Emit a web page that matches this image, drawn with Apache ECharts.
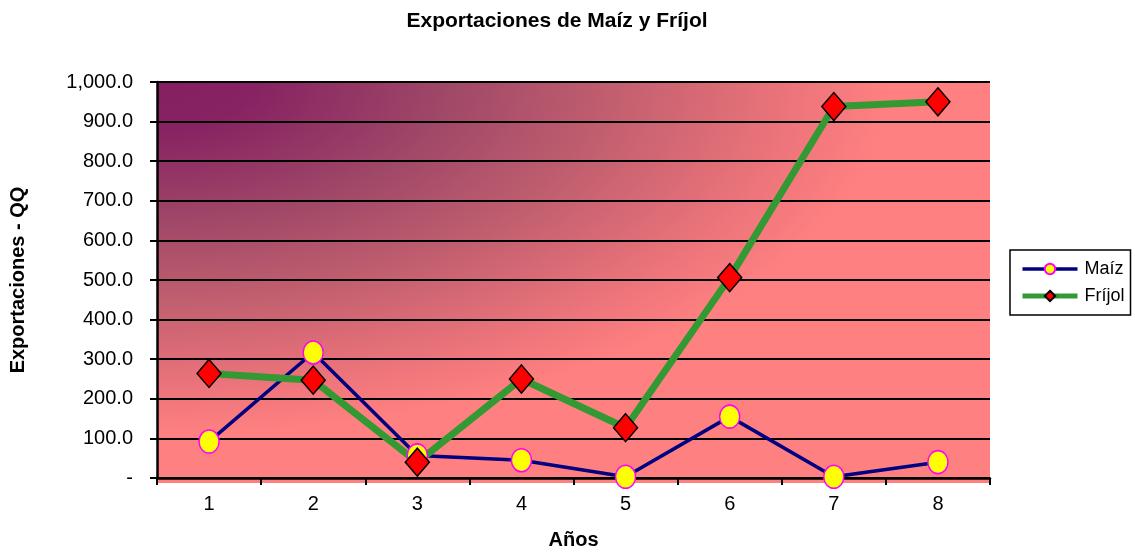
<!DOCTYPE html>
<html><head><meta charset="utf-8">
<script src="https://cdn.jsdelivr.net/npm/echarts@6/dist/echarts.min.js"></script>
<style>html,body{margin:0;padding:0;background:#fff}#c{width:1135px;height:555px}</style>
</head><body><div id="c"></div>
<script>
const categories = ['1','2','3','4','5','6','7','8'];
const maiz = [92, 317, 57, 45, 3, 155, 3, 40];
const frijol = [264, 247, 40, 250, 127, 506, 938, 950];
const yTickLabels = ['-', '100.0', '200.0', '300.0', '400.0', '500.0', '600.0', '700.0', '800.0', '900.0', '1,000.0'];
const seriesNames = ['Maíz', 'Fríjol'];

const G = {left: 157, top: 82, right: 145, bottom: 72};
const W = 1135 - G.left - G.right, H = 555 - G.top - G.bottom;
const font = 'Liberation Sans, Arial, sans-serif';

const chart = echarts.init(document.getElementById('c'));
chart.setOption({
  animation: false,
  backgroundColor: '#fff',
  title: {
    text: 'Exportaciones de Maíz y Fríjol', left: 557, top: 11, textAlign: 'center', padding: 0,
    textStyle: {fontFamily: font, fontSize: 21, fontWeight: 'bold', color: '#000'}
  },
  graphic: [{
    type: 'rect', x: G.left, y: G.top, scaleX: W / H, silent: true, z: -100,
    shape: {x: 0, y: 0, width: H, height: H},
    style: {fill: {type: 'radial', x: 0, y: 0, r: 1, colorStops: [
      {offset: 0, color: '#842060'}, {offset: 0.12, color: '#872362'},
      {offset: 0.35, color: '#a04868'}, {offset: 0.55, color: '#c25f6f'},
      {offset: 0.75, color: '#ea737a'}, {offset: 0.88, color: '#ff8080'}, {offset: 1, color: '#ff8080'}
    ]}}
  }],
  legend: {
    orient: 'vertical', left: 1010, top: 250,
    padding: [10, 6, 10, 10], itemGap: 9, itemWidth: 55, itemHeight: 13,
    backgroundColor: '#fff', borderColor: '#000', borderWidth: 1.5,
    textStyle: {fontFamily: font, fontSize: 18, color: '#000', padding: [0, 0, 0, 2], lineHeight: 18},
    data: [
      {name: seriesNames[0], lineStyle: {width: 3.5}},
      {name: seriesNames[1], lineStyle: {width: 5}}
    ]
  },
  grid: {left: G.left, top: G.top, right: G.right, bottom: G.bottom, containLabel: false},
  xAxis: {
    type: 'category', data: categories, boundaryGap: true,
    name: 'Años', nameLocation: 'middle', nameGap: 52,
    nameTextStyle: {fontFamily: font, fontSize: 20, fontWeight: 'bold', color: '#000'},
    axisLine: {lineStyle: {color: '#000', width: 2.5}},
    axisTick: {show: true, length: 7, lineStyle: {color: '#000', width: 2}},
    axisLabel: {fontFamily: font, fontSize: 20, color: '#000', margin: 16},
    splitLine: {show: false}
  },
  yAxis: {
    type: 'value', min: 0, max: 1000, interval: 100,
    name: 'Exportaciones - QQ', nameLocation: 'middle', nameGap: 129, nameRotate: 90,
    nameTextStyle: {fontFamily: font, fontSize: 20, fontWeight: 'bold', color: '#000'},
    axisLine: {show: true, lineStyle: {color: '#000', width: 2.5}},
    axisTick: {show: true, length: 7, lineStyle: {color: '#000', width: 2}},
    axisLabel: {fontFamily: font, fontSize: 20, color: '#000', margin: 24,
      formatter: v => yTickLabels[Math.round(v / 100)]},
    splitLine: {show: true, lineStyle: {color: '#000', width: 2}}
  },
  series: [
    {
      name: seriesNames[0], type: 'line', data: maiz,
      lineStyle: {color: '#000080', width: 3.5},
      itemStyle: {color: '#ffff00', borderColor: '#ff00ff', borderWidth: 1.5},
      symbol: 'circle', symbolSize: [20, 23], showAllSymbol: true
    },
    {
      name: seriesNames[1], type: 'line', data: frijol,
      lineStyle: {color: '#339933', width: 7},
      itemStyle: {color: '#ff0000', borderColor: '#000', borderWidth: 1.5},
      symbol: 'diamond', symbolSize: [24, 28], showAllSymbol: true
    }
  ]
});
</script></body></html>
